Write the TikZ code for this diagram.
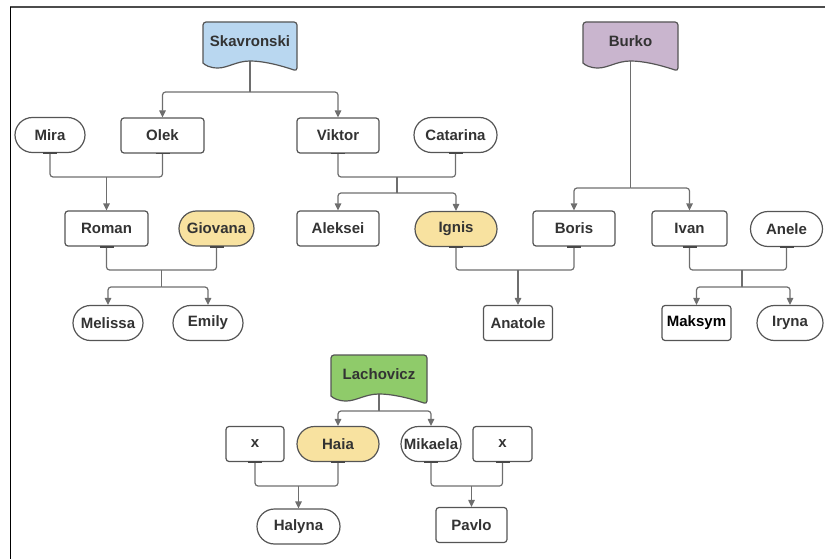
\documentclass[tikz,border=0pt]{standalone}
\usepackage{fontspec}
\setmainfont{Liberation Sans}
\usetikzlibrary{arrows.meta,calc,backgrounds}
\definecolor{linec}{HTML}{6E6E6E}
\definecolor{boxc}{HTML}{555555}
\definecolor{txt}{HTML}{333333}
\definecolor{skblue}{HTML}{B9D7F0}
\definecolor{bupurple}{HTML}{C9B5CE}
\definecolor{lagreen}{HTML}{8FCB6A}
\definecolor{yel}{HTML}{F8E2A0}
\tikzset{
  lbl/.style={font=\bfseries\fontsize{15}{17}\selectfont, text=txt},
  base/.style={lbl, draw=boxc, line width=1.2pt, inner sep=0pt, minimum height=35pt, fill=white},
  rbox/.style={base, rectangle, rounded corners=3pt},
  pill/.style={base, rectangle, rounded corners=17.5pt},
  doclbl/.style={lbl, inner sep=0pt},
  conn/.style={draw=linec, line width=1.2pt, rounded corners=3pt},
  arr/.style={conn, -{Triangle[length=7pt,width=6.5pt]}},
  tick/.style={draw=boxc!85!black, line width=1.8pt},
}
\newcommand\docshape[3]{%
  \path[draw=boxc, line width=1.2pt, fill=#3]
    let \p1=(#1.center), \n1={#2} in
    ({\x1-\n1/2},{\y1-22}) [rounded corners=3pt]
    -- ({\x1-\n1/2},{\y1+19}) -- ({\x1+\n1/2},{\y1+19})
    -- ({\x1+\n1/2},{\y1-30}) [sharp corners]
    .. controls ({\x1+0.28*\n1},{\y1-23}) and ({\x1+0.12*\n1},{\y1-20}) .. ({\x1},{\y1-20})
    .. controls ({\x1-0.14*\n1},{\y1-20}) and ({\x1-0.24*\n1},{\y1-27}) .. ({\x1-0.34*\n1},{\y1-27})
    .. controls ({\x1-0.43*\n1},{\y1-27}) and ({\x1-0.48*\n1},{\y1-24}) .. ({\x1-\n1/2},{\y1-22})
    -- cycle;}
\begin{document}
\begin{tikzpicture}[x=1pt,y=-1pt]
\useasboundingbox (0,0) rectangle (825,559);

% family headers
\node[doclbl] (sk) at (250,41) {Skavronski};
\node[doclbl] (bu) at (630.5,41) {Burko};
\node[doclbl] (la) at (379,374) {Lachovicz};

% people
\node[pill, minimum width=70pt] (mira) at (50,135) {Mira};
\node[rbox, minimum width=83pt] (olek) at (162.5,135.5) {Olek};
\node[rbox, minimum width=82pt] (viktor) at (338,135.5) {Viktor};
\node[pill, minimum width=83pt] (catarina) at (455.5,135) {Catarina};

\node[rbox, minimum width=83pt] (roman) at (106.5,228.5) {Roman};
\node[pill, minimum width=75pt, fill=yel] (giovana) at (216.5,228.5) {Giovana};
\node[rbox, minimum width=82pt] (aleksei) at (338,228.5) {Aleksei};
\node[pill, minimum width=82pt, fill=yel] (ignis) at (456,229) {Ignis};
\node[rbox, minimum width=82pt] (boris) at (574,228.5) {Boris};
\node[rbox, minimum width=75pt] (ivan) at (689.5,228.5) {Ivan};
\node[pill, minimum width=72pt] (anele) at (786.5,229) {Anele};

\node[pill, minimum width=70pt] (melissa) at (108,323) {Melissa};
\node[pill, minimum width=70pt] (emily) at (208,323) {Emily};
\node[rbox, minimum width=69pt] (anatole) at (518,323) {Anatole};
\node[rbox, minimum width=69pt, text=black] (maksym) at (696.5,323) {Maksym};
\node[pill, minimum width=66pt] (iryna) at (790,323) {Iryna};

\node[rbox, minimum width=58pt] (xa) at (255,444) {x};
\node[pill, minimum width=82pt, fill=yel] (haia) at (338,444) {Haia};
\node[pill, minimum width=60pt] (mikaela) at (431,444) {Mikaela};
\node[rbox, minimum width=59pt] (xb) at (502.5,444) {x};

\node[pill, minimum width=83pt] (halyna) at (298.5,526.5) {Halyna};
\node[rbox, minimum width=71pt] (pavlo) at (471.5,525) {Pavlo};

% junctions
\coordinate (j1) at (250,92);
\coordinate (c1) at (106.5,177);
\coordinate (c2) at (161.5,270);
\coordinate (s2) at (161.5,287);
\coordinate (c3) at (397,177);
\coordinate (s3) at (397,193);
\coordinate (j2) at (630.5,188);
\coordinate (c4) at (518,270);
\coordinate (c5) at (742,270);
\coordinate (s5) at (742,287);
\coordinate (j3) at (379,411);
\coordinate (c6) at (298.5,486);
\coordinate (c7) at (471.5,486);

\begin{scope}[on background layer]
  % frame
  \draw[line width=2pt, draw=black!70] (10,7) -- (825,7);
  \draw[line width=1.5pt, draw=black] (10.5,7) -- (10.5,559);
  % connectors
  \draw[conn] (sk.center) -- (j1);
  \draw[arr] (j1) -| (olek.north);
  \draw[arr] (j1) -| (viktor.north);

  \draw[conn] (mira.south) |- (c1) -| (olek.south);
  \draw[arr] (c1) -- (roman.north);

  \draw[conn] (roman.south) |- (c2) -| (giovana.south);
  \draw[conn] (c2) -- (s2);
  \draw[arr] (s2) -| (melissa.north);
  \draw[arr] (s2) -| (emily.north);

  \draw[conn] (viktor.south) |- (c3) -| (catarina.south);
  \draw[conn] (c3) -- (s3);
  \draw[arr] (s3) -| (aleksei.north);
  \draw[arr] (s3) -| (ignis.north);

  \draw[conn] (bu.center) -- (j2);
  \draw[arr] (j2) -| (boris.north);
  \draw[arr] (j2) -| (ivan.north);

  \draw[conn] (ignis.south) |- (c4) -| (boris.south);
  \draw[arr] (c4) -- (anatole.north);

  \draw[conn] (ivan.south) |- (c5) -| (anele.south);
  \draw[conn] (c5) -- (s5);
  \draw[arr] (s5) -| (maksym.north);
  \draw[arr] (s5) -| (iryna.north);

  \draw[conn] (la.center) -- (j3);
  \draw[arr] (j3) -| (haia.north);
  \draw[arr] (j3) -| (mikaela.north);

  \draw[conn] (xa.south) |- (c6) -| (haia.south);
  \draw[arr] (c6) -- (halyna.north);

  \draw[conn] (mikaela.south) |- (c7) -| (xb.south);
  \draw[arr] (c7) -- (pavlo.north);

  % document shapes
  \docshape{sk}{94}{skblue}
  \docshape{bu}{95}{bupurple}
  \docshape{la}{96}{lagreen}
\end{scope}

% connection ticks
\foreach \n in {mira,olek,viktor,catarina,roman,giovana,ignis,boris,ivan,anele,xa,haia,mikaela,xb}
  \draw[tick] ([xshift=-7pt]\n.south) -- ([xshift=7pt]\n.south);
\end{tikzpicture}
\end{document}
